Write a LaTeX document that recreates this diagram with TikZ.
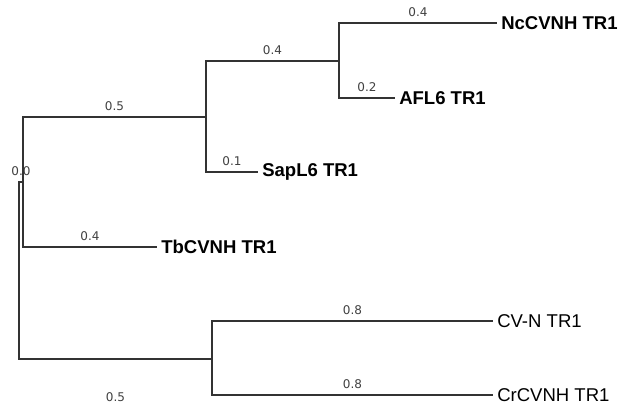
\documentclass[tikz,border=0pt]{standalone}
\usepackage{fontspec}
\setmainfont{Liberation Sans}
\newfontfamily\lenfont{DejaVu Sans}
\usepackage{tikz}
\usetikzlibrary{positioning}

\begin{document}
\begin{tikzpicture}[
    x=0.75pt, y=-0.75pt,
    branch/.style={draw=black!80, line width=0.8pt},
    leaf/.style={anchor=west, inner sep=3pt, font=\fontsize{13.9}{15}\selectfont\bfseries},
    leafthin/.style={anchor=west, inner sep=3pt, font=\fontsize{13.9}{15}\selectfont},
    blen/.style={pos=0.75, anchor=center, yshift=7.9pt, text=black!75, font=\lenfont\fontsize{9}{10}\selectfont}
]
\useasboundingbox (0,0) rectangle (619,406);

% inner nodes of the tree
\coordinate (root) at (19,270);
\coordinate (nA) at (23,182);
\coordinate (n1) at (206,117);
\coordinate (n2) at (339,61);
\coordinate (nB) at (212,359);

% leaves
\node[leaf] (nc) at (497,23) {NcCVNH TR1};
\node[leaf] (afl) at (395,98) {AFL6 TR1};
\node[leaf] (sap) at (258,172) {SapL6 TR1};
\node[leaf] (tb) at (157,247) {TbCVNH TR1};
\node[leafthin] (cvn) at (493,321) {CV-N TR1};
\node[leafthin] (cr) at (493,395) {CrCVNH TR1};

\draw[branch] (root) |- (nA) node[blen] {0.0};
\draw[branch] (root) |- (nB) node[blen, yshift=-36.4pt] {0.5};
\draw[branch] (nA) |- (n1) node[blen] {0.5};
\draw[branch] (nA) |- (tb.west) node[blen] {0.4};
\draw[branch] (n1) |- (n2) node[blen] {0.4};
\draw[branch] (n1) |- (sap.west) node[blen] {0.1};
\draw[branch] (n2) |- (nc.west) node[blen] {0.4};
\draw[branch] (n2) |- (afl.west) node[blen] {0.2};
\draw[branch] (nB) |- (cvn.west) node[blen] {0.8};
\draw[branch] (nB) |- (cr.west) node[blen] {0.8};
\end{tikzpicture}
\end{document}
